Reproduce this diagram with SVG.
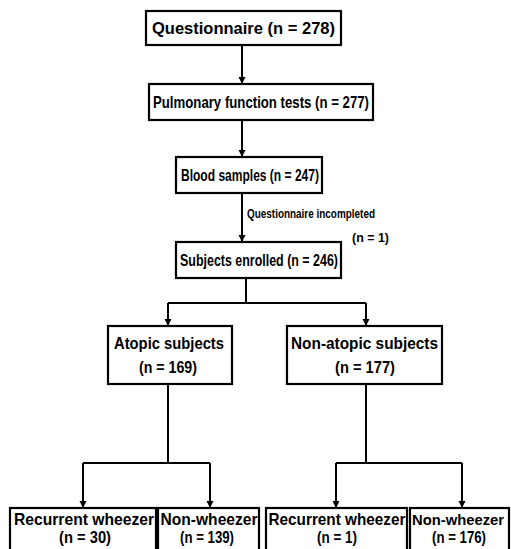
<svg xmlns="http://www.w3.org/2000/svg" width="511" height="549" viewBox="0 0 511 549">
<defs>
<style>
.box{fill:#fff;stroke:#000;stroke-width:2.2}
.t{font-family:"Liberation Sans Narrow","Liberation Sans",Arial,sans-serif;font-weight:bold;font-size:16.5px;fill:#000;text-anchor:middle}
.s{font-family:"Liberation Sans Narrow","Liberation Sans",Arial,sans-serif;font-weight:bold;font-size:13.5px;fill:#000}
.c{fill:none;stroke:#000;stroke-width:2}
</style>
<marker id="ah" markerWidth="8" markerHeight="8" refX="7" refY="4" orient="auto" markerUnits="userSpaceOnUse">
<path d="M0,0.5 L7,4 L0,7.5 Z" fill="#000"/>
</marker>
</defs>
<rect width="511" height="549" fill="#fff"/>
<g id="connectors">
<line class="c" x1="242" y1="45" x2="242" y2="84" marker-end="url(#ah)"/>
<line class="c" x1="242" y1="120" x2="242" y2="157" marker-end="url(#ah)"/>
<line class="c" x1="242" y1="193" x2="242" y2="242" marker-end="url(#ah)"/>
<polyline class="c" points="246,278 246,303"/>
<polyline class="c" points="168,303 366,303"/>
<line class="c" x1="168" y1="303" x2="168" y2="326" marker-end="url(#ah)"/>
<line class="c" x1="366" y1="303" x2="366" y2="326" marker-end="url(#ah)"/>
<polyline class="c" points="168,384 168,463"/>
<polyline class="c" points="83,463 210,463"/>
<line class="c" x1="83" y1="463" x2="83" y2="508" marker-end="url(#ah)"/>
<line class="c" x1="210" y1="463" x2="210" y2="508" marker-end="url(#ah)"/>
<polyline class="c" points="366,384 366,463"/>
<polyline class="c" points="336,463 462,463"/>
<line class="c" x1="336" y1="463" x2="336" y2="508" marker-end="url(#ah)"/>
<line class="c" x1="462" y1="463" x2="462" y2="508" marker-end="url(#ah)"/>
</g>
<g id="n1"><rect class="box" x="146" y="11" width="195" height="34"/><text class="t" x="243.5" y="34" textLength="183" lengthAdjust="spacingAndGlyphs">Questionnaire (n = 278)</text></g>
<g id="n2"><rect class="box" x="149" y="84" width="224" height="36"/><text class="t" x="261" y="108" textLength="216" lengthAdjust="spacingAndGlyphs">Pulmonary function tests (n = 277)</text></g>
<g id="n3"><rect class="box" x="176" y="157" width="146" height="36"/><text class="t" x="250" y="181" textLength="138" lengthAdjust="spacingAndGlyphs">Blood samples (n = 247)</text></g>
<g id="lbl"><text class="s" x="247" y="218" textLength="128" lengthAdjust="spacingAndGlyphs">Questionnaire incompleted</text><text class="s" x="352" y="242" textLength="37" lengthAdjust="spacingAndGlyphs">(n = 1)</text></g>
<g id="n4"><rect class="box" x="176" y="242" width="165" height="36"/><text class="t" x="259" y="266" textLength="158" lengthAdjust="spacingAndGlyphs">Subjects enrolled (n = 246)</text></g>
<g id="n5"><rect class="box" x="108" y="326" width="124" height="58"/><text class="t" x="169" y="349" textLength="110" lengthAdjust="spacingAndGlyphs">Atopic subjects</text><text class="t" x="168" y="373" textLength="58" lengthAdjust="spacingAndGlyphs">(n = 169)</text></g>
<g id="n6"><rect class="box" x="287" y="326" width="155" height="58"/><text class="t" x="364.5" y="349" textLength="147" lengthAdjust="spacingAndGlyphs">Non-atopic subjects</text><text class="t" x="365" y="373" textLength="60" lengthAdjust="spacingAndGlyphs">(n = 177)</text></g>
<g id="n7"><rect class="box" x="10" y="508" width="146" height="45"/><text class="t" x="84" y="525" textLength="140" lengthAdjust="spacingAndGlyphs">Recurrent wheezer</text><text class="t" x="85" y="543" textLength="52" lengthAdjust="spacingAndGlyphs">(n = 30)</text></g>
<g id="n8"><rect class="box" x="158" y="508" width="101" height="45"/><text class="t" x="209" y="525" textLength="97" lengthAdjust="spacingAndGlyphs">Non-wheezer</text><text class="t" x="207" y="543" textLength="54" lengthAdjust="spacingAndGlyphs">(n = 139)</text></g>
<g id="n9"><rect class="box" x="266" y="508" width="141" height="45"/><text class="t" x="337" y="525" textLength="137" lengthAdjust="spacingAndGlyphs">Recurrent wheezer</text><text class="t" x="337" y="543" textLength="40" lengthAdjust="spacingAndGlyphs">(n = 1)</text></g>
<g id="n10"><rect class="box" x="410" y="508" width="99" height="45"/><text class="t" x="458" y="525" style="font-size:15.5px" textLength="92" lengthAdjust="spacingAndGlyphs">Non-wheezer</text><text class="t" x="459" y="543" textLength="54" lengthAdjust="spacingAndGlyphs">(n = 176)</text></g>
</svg>
